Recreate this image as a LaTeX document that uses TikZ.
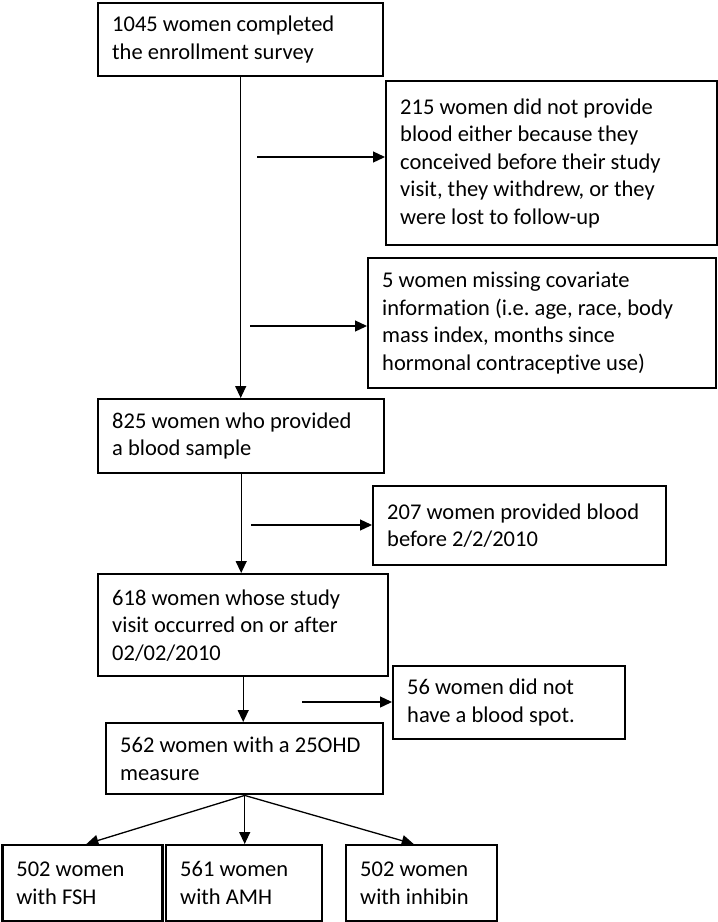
\documentclass[tikz,border=0pt]{standalone}
\usepackage{fontspec}
\setmainfont{Carlito}[Ligatures=NoCommon]
\usetikzlibrary{arrows.meta}
\frenchspacing

\begin{document}
\begin{tikzpicture}[x=1pt,y=-1pt,
  box/.style={draw, line width=2.4pt, anchor=north west, align=flush left, inner xsep=14pt, inner ysep=0pt, font=\fontsize{22.5}{27.5}\selectfont},
  link/.style={line width=1.3pt, -{Triangle[length=12pt,width=11pt]}}]
\useasboundingbox (0,0) rectangle (718,922);

\node[box, text width=257pt, minimum height=73pt] (enrolled) at (97,2) {1045 women completed\\the enrollment survey};
\node[box, text width=303pt, minimum height=164pt] (noblood) at (385,80) {215 women did not provide\\blood either because they\\conceived before their study\\visit, they withdrew, or they\\were lost to follow-up};
\node[box, text width=320pt, minimum height=130pt] (missing) at (367,257) {5 women missing covariate\\information (i.e. age, race, body\\mass index, months since\\hormonal contraceptive use)};
\node[box, text width=258pt, minimum height=74pt] (sample) at (97,398) {825 women who provided\\a blood sample};
\node[box, text width=265pt, minimum height=79pt] (early) at (372,485) {207 women provided blood\\before 2/2/2010};
\node[box, text width=262pt, minimum height=102pt] (visit) at (97,573) {618 women whose study\\visit occurred on or after\\02/02/2010};
\node[box, text width=204pt, minimum height=73pt] (nospot) at (392,665) {56 women did not\\have a blood spot.};
\node[box, text width=249pt, minimum height=71pt] (vitd) at (105,722) {562 women with a 25OHD\\measure};
\node[box, text width=132pt, minimum height=76pt] (fsh) at (1.2,844) {502 women\\with FSH};
\node[box, text width=128pt, minimum height=76pt] (amh) at (165,844) {561 women\\with AMH};
\node[box, text width=123pt, minimum height=76pt] (inh) at (345,844) {502 women\\with inhibin};

\coordinate (b1) at (257,157);
\coordinate (b2) at (250,326);
\coordinate (b3) at (251,525);
\coordinate (b4) at (302,702);

\draw[link] (enrolled.south) -- (enrolled.south |- sample.north);
\draw[link] (b1) -- (b1 -| noblood.west);
\draw[link] (b2) -- (b2 -| missing.west);
\draw[link] (sample.south) -- (sample.south |- visit.north);
\draw[link] (b3) -- (b3 -| early.west);
\draw[link] (visit.south) -- (visit.south |- vitd.north);
\draw[link] (b4) -- (b4 -| nospot.west);
\draw[link] (vitd.south) -- ([xshift=4pt]fsh.north);
\draw[link] (vitd.south) -- (vitd.south |- amh.north);
\draw[link] (vitd.south) -- ([xshift=-8pt]inh.north);
\end{tikzpicture}
\end{document}
